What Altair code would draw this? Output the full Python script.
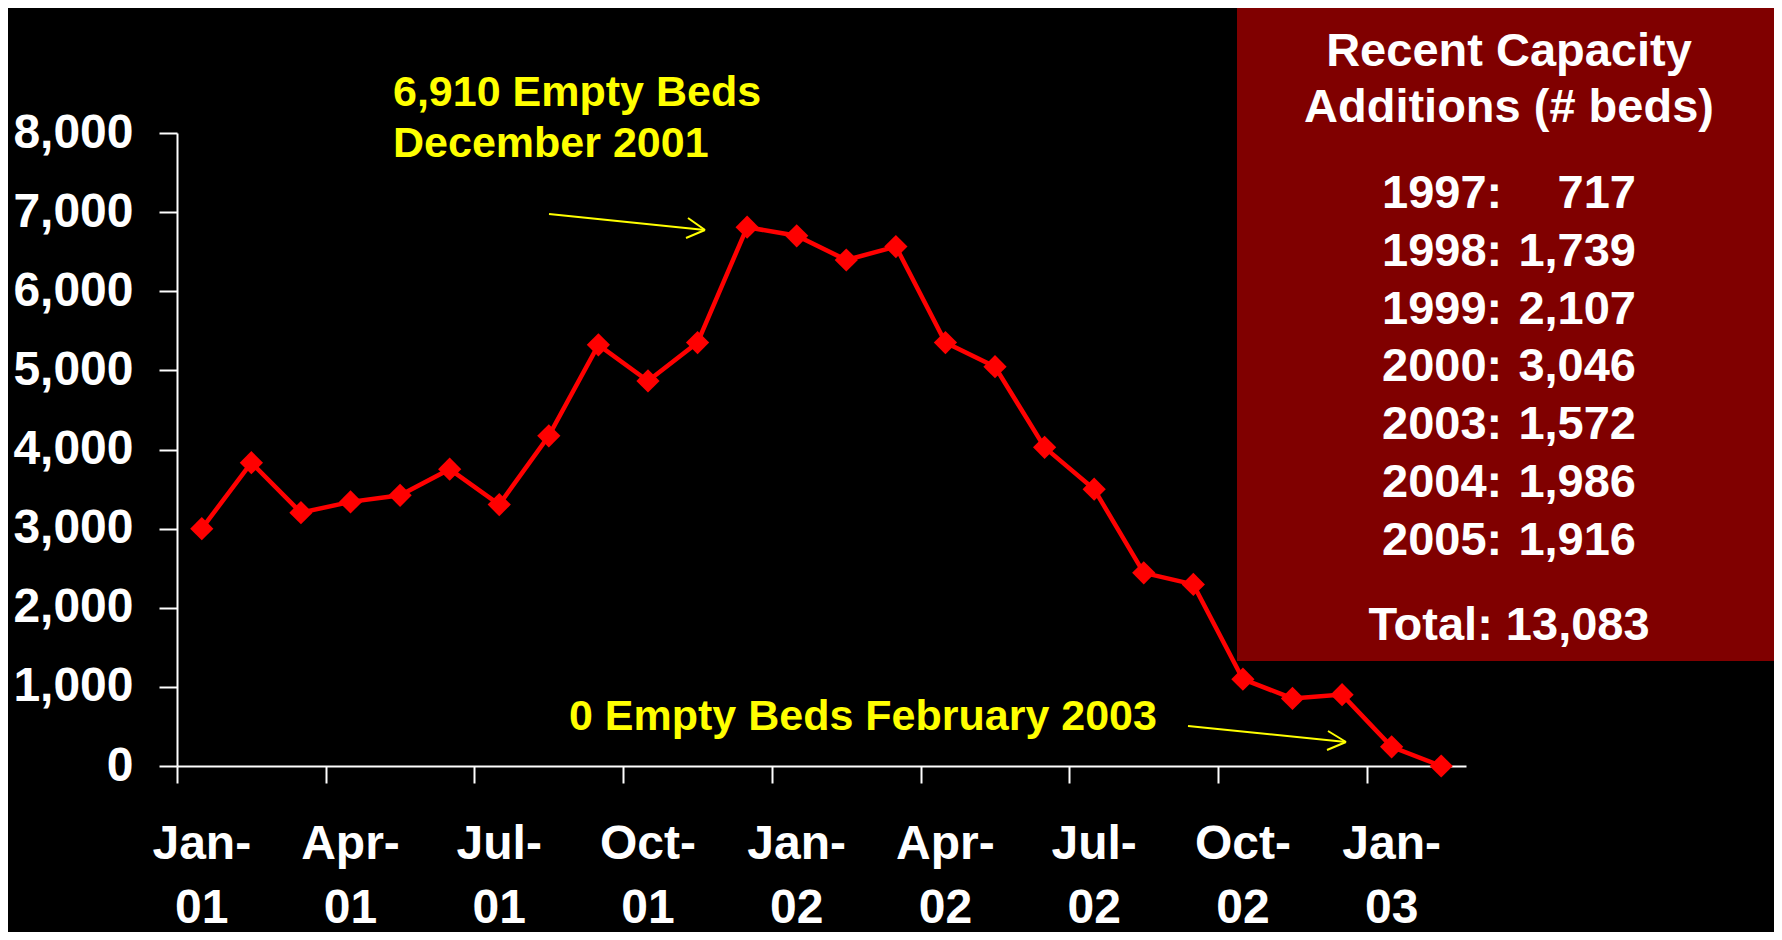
import altair as alt
import pandas as pd

# ---------------- data ----------------
months = ["Jan-01", "Feb-01", "Mar-01", "Apr-01", "May-01", "Jun-01", "Jul-01",
          "Aug-01", "Sep-01", "Oct-01", "Nov-01", "Dec-01", "Jan-02", "Feb-02",
          "Mar-02", "Apr-02", "May-02", "Jun-02", "Jul-02", "Aug-02", "Sep-02",
          "Oct-02", "Nov-02", "Dec-02", "Jan-03", "Feb-03"]
empty_beds = [3000, 3833, 3202, 3338, 3421, 3751, 3304, 4173, 5323, 4866, 5352,
              6810, 6701, 6395, 6565, 5352, 5046, 4027, 3498, 2441, 2295, 1097,
              854, 902, 243, 0]
tick_labels = ["Jan-\n01", "Apr-\n01", "Jul-\n01", "Oct-\n01", "Jan-\n02",
               "Apr-\n02", "Jul-\n02", "Oct-\n02", "Jan-\n03"]
y_ticks = [0, 1000, 2000, 3000, 4000, 5000, 6000, 7000, 8000]

box_title = ["Recent Capacity", "Additions (# beds)"]
cap_years = ["1997", "1998", "1999", "2000", "2003", "2004", "2005"]
cap_beds = [717, 1739, 2107, 3046, 1572, 1986, 1916]
cap_total = 13083

note_peak = "6,910 Empty Beds\nDecember 2001"
note_zero = "0 Empty Beds February 2003"

# ---------------- layout ----------------
W, H = 1289, 633
FONT = "Liberation Sans"
RED = "#ff0000"
YELLOW = "#ffff00"
BOX = "#800000"

df = pd.DataFrame({"idx": list(range(len(months))), "month": months, "beds": empty_beds})
tick_df = pd.DataFrame({"idx": [3 * k for k in range(len(tick_labels))], "label": tick_labels})

x_enc = alt.X("idx:Q",
              scale=alt.Scale(domain=[-0.5, len(months) - 0.5], nice=False, zero=False),
              axis=alt.Axis(values=[3 * k - 0.5 for k in range(len(tick_labels))],
                            labels=False, grid=False, title=None,
                            tickSize=17, tickColor="white", tickWidth=2,
                            domainColor="white", domainWidth=2))
y_enc = alt.Y("beds:Q",
              scale=alt.Scale(domain=[0, 8000], nice=False),
              axis=alt.Axis(values=y_ticks, format=",d", grid=False, title=None,
                            labelFont=FONT, labelFontSize=48, labelFontWeight="bold",
                            labelColor="white", labelPadding=26,
                            tickSize=18, tickColor="white", tickWidth=2,
                            domainColor="white", domainWidth=2))

# dark red box
box = alt.Chart(pd.DataFrame({"a": [0]})).mark_rect(color=BOX).encode(
    x=alt.value(1060), x2=alt.value(1597), y=alt.value(-125), y2=alt.value(528))

line = alt.Chart(df).mark_line(color=RED, strokeWidth=4.5).encode(x=x_enc, y=y_enc)
pts = alt.Chart(df).mark_point(shape="diamond", filled=True, size=540,
                               color=RED, opacity=1).encode(x="idx:Q", y="beds:Q")

xlabels = alt.Chart(tick_df).mark_text(
    font=FONT, fontSize=48, fontWeight="bold", color="white",
    align="center", baseline="alphabetic", lineBreak="\n", lineHeight=64
).encode(x="idx:Q", y=alt.value(H + 93), text="label:N")

# annotations (pixel positions relative to plot origin)
def px(col):
    return alt.X(f"{col}:Q", scale=None, axis=None)

def py(col):
    return alt.Y(f"{col}:Q", scale=None, axis=None)

notes_df = pd.DataFrame({"x": [216, 392], "y": [-27, 597], "t": [note_peak, note_zero]})
notes = alt.Chart(notes_df).mark_text(
    font=FONT, fontSize=43, fontWeight="bold", color=YELLOW,
    align="left", baseline="alphabetic", lineBreak="\n", lineHeight=51
).encode(x=px("x"), y=py("y"), text="t:N")

arrow_df = pd.DataFrame({
    "x":  [372, 511, 509, 1011, 1151, 1150],
    "y":  [81, 85, 105, 593, 598, 617],
    "x2": [528, 528, 528, 1169, 1169, 1169],
    "y2": [97, 97, 97, 609, 609, 609],
})
arrows = alt.Chart(arrow_df).mark_rule(color=YELLOW, strokeWidth=2).encode(
    x=px("x"), y=py("y"), x2="x2:Q", y2="y2:Q")

CX = 1332
title_df = pd.DataFrame({"t": box_title + [f"Total: {cap_total:,}"],
                         "y": [-67, -11, 507]})
title_txt = alt.Chart(title_df).mark_text(
    font=FONT, fontSize=47, fontWeight="bold", color="white",
    align="center", baseline="alphabetic"
).encode(x=alt.value(CX), y=py("y"), text="t:N")

rows = pd.DataFrame({"yr": [y + ":" for y in cap_years],
                     "val": [f"{v:,}" for v in cap_beds],
                     "y": [75 + 57.8 * i for i in range(len(cap_years))]})
yr_txt = alt.Chart(rows).mark_text(
    font=FONT, fontSize=47, fontWeight="bold", color="white",
    align="left", baseline="alphabetic"
).encode(x=alt.value(1205), y=py("y"), text="yr:N")
val_txt = alt.Chart(rows).mark_text(
    font=FONT, fontSize=47, fontWeight="bold", color="white",
    align="right", baseline="alphabetic"
).encode(x=alt.value(1459), y=py("y"), text="val:N")

chart = alt.layer(box, line, pts, xlabels, notes, arrows, title_txt, yr_txt, val_txt).properties(
    width=W, height=H,
    autosize=alt.AutoSizeParams(type="none"),
    padding={"left": 169, "top": 125, "right": 308, "bottom": 166},
).configure(background="black").configure_view(stroke=None)

chart.save("out.html", embed_options={"renderer": "svg", "actions": False})
